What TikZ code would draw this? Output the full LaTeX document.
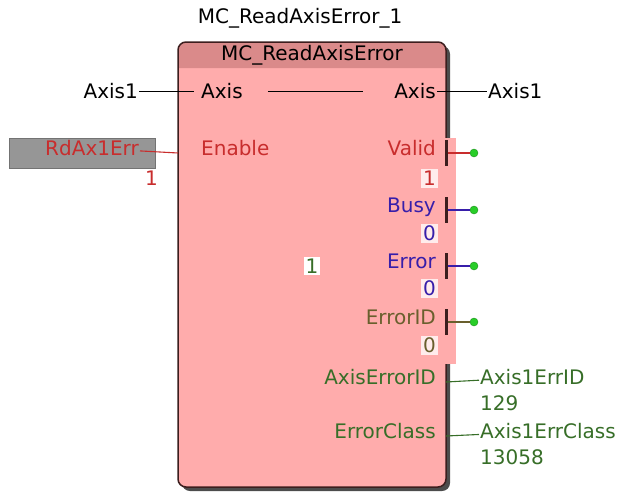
\documentclass[tikz,border=0pt]{standalone}
\usepackage{fontspec}
\setmainfont{DejaVu Sans}

\definecolor{fbbody}{RGB}{255,172,172}
\definecolor{fbhead}{RGB}{218,138,138}
\definecolor{fbline}{RGB}{60,30,30}
\definecolor{txtred}{RGB}{200,45,45}
\definecolor{txtblue}{RGB}{55,30,170}
\definecolor{txtolive}{RGB}{105,95,45}
\definecolor{txtgreen}{RGB}{55,110,40}
\definecolor{dotgreen}{RGB}{40,205,40}
\definecolor{valbg}{RGB}{255,236,236}
\definecolor{varbg}{RGB}{150,150,150}

\tikzset{
  lbl/.style={font=\fontsize{20}{23}\selectfont, inner sep=1pt},
  pinbar/.style={fill=fbline, minimum width=3pt, minimum height=26pt, inner sep=0pt},
  outdot/.style={circle, fill=dotgreen, draw=dotgreen!70!black, minimum size=8pt, inner sep=0pt},
  valbox/.style={lbl, fill=valbg, inner sep=2pt},
  wire/.style={line width=1.1pt}
}

\begin{document}
\begin{tikzpicture}[x=1pt, y=-1pt]
  \useasboundingbox (0,0) rectangle (643,493);

  % block body
  \fill[black!70, rounded corners=8pt] (182,46) rectangle (450,491);
  \fill[fbbody, rounded corners=8pt] (178,42) rectangle (446,487);
  \fill[fbhead] (178,68) [rounded corners=8pt] -- (178,42) -- (446,42) [sharp corners] -- (446,68) -- cycle;
  \draw[fbline, line width=1.5pt, rounded corners=8pt] (178,42) rectangle (446,487);
  \fill[fbbody] (444,138) rectangle (456,364);

  \node[lbl] (inst) at (300,18) {MC\_ReadAxisError\_1};
  \node[lbl] (fbname) at (312,55) {MC\_ReadAxisError};

  % inputs
  \node[lbl, anchor=mid east] (axisin) at (139,96) {Axis1};
  \node[lbl, anchor=mid west] (axis) at (200,96) {Axis};
  \node[lbl, anchor=mid east] (axisout) at (437,96) {Axis};
  \node[lbl, anchor=mid west] (axisoutvar) at (487,96) {Axis1};

  \fill[varbg, draw=black!55, line width=1pt] (9,138) rectangle (155,168);
  \node[lbl, anchor=mid east, text=txtred] (rdvar) at (140,153) {RdAx1Err};
  \node[lbl, anchor=mid east, text=txtred] (rdval) at (159,183) {1};
  \node[lbl, anchor=mid west, text=txtred] (enable) at (200,153) {Enable};
  \coordinate (enpin) at (178,153);

  \node[valbox, fill=white, text=txtgreen] (innerval) at (312,266) {1};

  % outputs
  \node[lbl, anchor=mid east, text=txtred] (valid) at (437,153) {Valid};
  \node[valbox, anchor=mid east, text=txtred] (validval) at (438,183) {1};
  \node[lbl, anchor=mid east, text=txtblue] (busy) at (437,210) {Busy};
  \node[valbox, anchor=mid east, text=txtblue] (busyval) at (438,238) {0};
  \node[lbl, anchor=mid east, text=txtblue] (error) at (437,266) {Error};
  \node[valbox, anchor=mid east, text=txtblue] (errorval) at (438,293) {0};
  \node[lbl, anchor=mid east, text=txtolive] (errorid) at (437,322) {ErrorID};
  \node[valbox, anchor=mid east, text=txtolive] (erroridval) at (438,350) {0};
  \node[lbl, anchor=mid east, text=txtgreen] (axiserrid) at (437,382) {AxisErrorID};
  \node[lbl, anchor=mid east, text=txtgreen] (errclass) at (437,436) {ErrorClass};

  \node[pinbar] (validpin) at (446,153) {};
  \node[pinbar] (busypin) at (446,210) {};
  \node[pinbar] (errorpin) at (446,266) {};
  \node[pinbar] (erroridpin) at (446,322) {};
  \coordinate (axiserridpin) at (446,382);
  \coordinate (errclasspin) at (446,436);

  \node[outdot] (validdot) at (474,153) {};
  \node[outdot] (busydot) at (474,210) {};
  \node[outdot] (errordot) at (474,266) {};
  \node[outdot] (erroriddot) at (474,322) {};

  \node[lbl, anchor=mid west, text=txtgreen] (axiserridvar) at (479,382) {Axis1ErrID};
  \node[lbl, anchor=mid west, text=txtgreen] (axiserridval) at (479,408) {129};
  \node[lbl, anchor=mid west, text=txtgreen] (errclassvar) at (479,436) {Axis1ErrClass};
  \node[lbl, anchor=mid west, text=txtgreen] (errclassval) at (479,462) {13058};

  % connections
  \draw[wire] (axisin) -- ([xshift=-6pt]axis.west);
  \draw[wire] ([xshift=24pt]axis.east) -- ([xshift=-30pt]axisout.west);
  \draw[wire] (axisout) -- (axisoutvar);
  \draw[wire, txtred] (rdvar) -- (enpin);
  \draw[wire, txtred] (validpin) -- (validdot);
  \draw[wire, txtblue] (busypin) -- (busydot);
  \draw[wire, txtblue] (errorpin) -- (errordot);
  \draw[wire, txtolive] (erroridpin) -- (erroriddot);
  \draw[wire, txtgreen] (axiserridpin) -- (axiserridvar);
  \draw[wire, txtgreen] (errclasspin) -- (errclassvar);
\end{tikzpicture}
\end{document}
